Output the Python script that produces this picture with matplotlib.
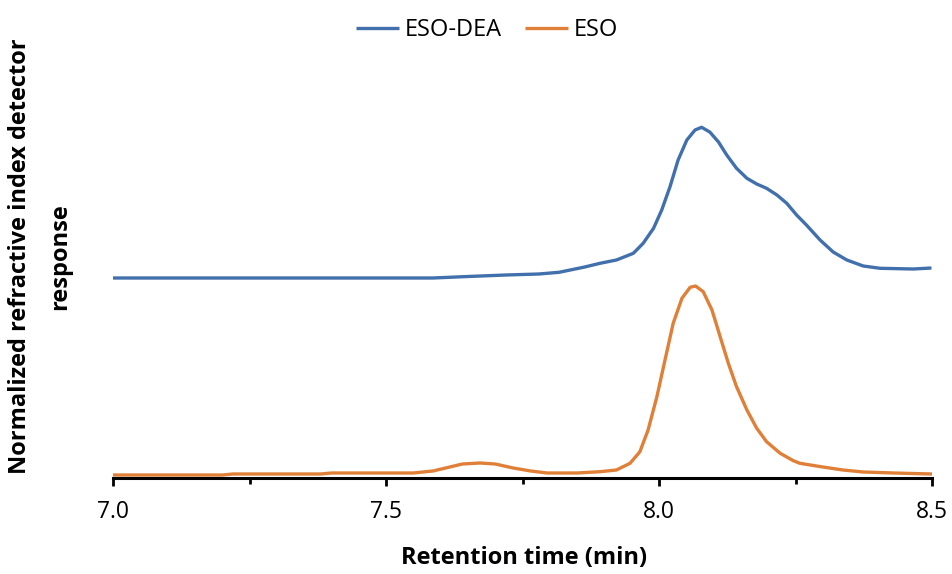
import matplotlib
matplotlib.use("Agg")
import matplotlib.pyplot as plt
from matplotlib.ticker import MultipleLocator

plt.rcParams['font.family'] = ['Open Sans', 'DejaVu Sans']

# ESO-DEA (blue)
t_dea = [7.00, 7.586, 7.65, 7.72, 7.78, 7.817, 7.864, 7.892, 7.922, 7.953, 7.971,
         7.990, 8.005, 8.020, 8.035, 8.051, 8.066, 8.078, 8.093, 8.109, 8.124,
         8.142, 8.161, 8.179, 8.197, 8.216, 8.234, 8.252, 8.270, 8.295, 8.319,
         8.344, 8.374, 8.405, 8.466, 8.499]
y_dea = [200, 200, 201.5, 203, 204, 205.7, 211, 214.7, 218, 224.7, 234.7,
         249.7, 268, 291, 318, 338, 348, 350.7, 346, 336, 323,
         309.7, 299.7, 294, 289.7, 283, 274.7, 263, 253, 238, 226,
         218, 212, 209.7, 209, 210]

# ESO (orange)
t_eso = [7.00, 7.20, 7.22, 7.38, 7.40, 7.55, 7.586, 7.617, 7.64, 7.672, 7.70, 7.733,
         7.765, 7.795, 7.85, 7.892, 7.922, 7.947, 7.965, 7.980, 7.996, 8.011, 8.026,
         8.042, 8.057, 8.067, 8.081, 8.097, 8.112, 8.127, 8.142, 8.161, 8.179,
         8.197, 8.222, 8.246, 8.258, 8.30, 8.337, 8.374, 8.43, 8.50]
y_eso = [3, 3, 4, 4, 5, 5, 7, 11, 14, 15, 14, 10,
         7, 5, 5, 6.3, 8, 14.7, 26.3, 48, 81, 118, 154.7,
         179.7, 190.7, 192, 186.3, 168, 141.3, 114.7, 91.3, 68, 49.7,
         36.3, 24.7, 17.3, 14.7, 11, 8, 6, 5, 4]

series_names = ["ESO-DEA", "ESO"]
xtick_vals = [7.0, 7.5, 8.0, 8.5]
xtick_labels = ["7.0", "7.5", "8.0", "8.5"]

W, H = 952, 574
fig = plt.figure(figsize=(W / 100, H / 100), dpi=100)
ax = fig.add_axes([113 / W, (H - 478) / H, (932 - 113) / W, 420 / H])

blue = "#4170AC"
orange = "#E08038"
l1, = ax.plot(t_dea, y_dea, color=blue, lw=2.4, solid_capstyle='butt', solid_joinstyle='round')
l2, = ax.plot(t_eso, y_eso, color=orange, lw=2.4, solid_capstyle='butt', solid_joinstyle='round')

ax.set_xlim(7.0, 8.5)
ax.set_ylim(0, 420)
ax.set_yticks([])
for s in ["left", "right", "top"]:
    ax.spines[s].set_visible(False)
ax.spines["bottom"].set_linewidth(2.2)
ax.set_xticks(xtick_vals)
ax.set_xticklabels(xtick_labels)
ax.xaxis.set_minor_locator(MultipleLocator(0.25))
ax.tick_params(axis='x', which='major', length=6, width=2, pad=10, labelsize=16.5, direction='out')
ax.tick_params(axis='x', which='minor', length=4, width=2, direction='out')

fig.text(524 / W, 1 - 558 / H, "Retention time (min)", ha='center', va='center',
         fontsize=17, fontweight='bold')
fig.text(20 / W, 1 - 256 / H, "Normalized refractive index detector", ha='center', va='center',
         rotation=90, fontsize=17, fontweight='bold')
fig.text(60 / W, 1 - 257 / H, "response", ha='center', va='center',
         rotation=90, fontsize=17, fontweight='bold')

fig.legend([l1, l2], series_names, loc='center', bbox_to_anchor=(487 / W, 1 - 30 / H),
           ncol=2, frameon=False, fontsize=17, handlelength=1.8, columnspacing=1.0,
           handletextpad=0.25)

fig.savefig("out.png", dpi=100)
